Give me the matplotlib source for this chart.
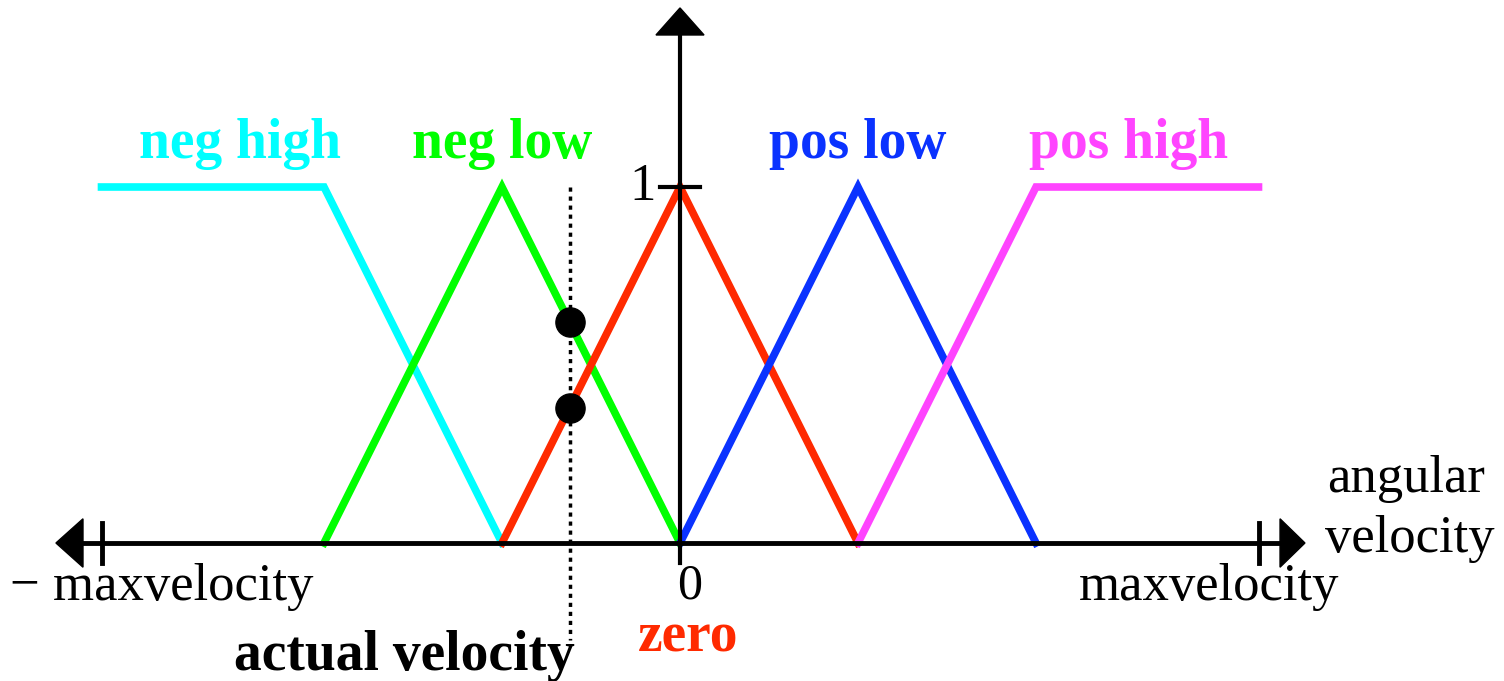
import matplotlib as mpl
import matplotlib.pyplot as plt
import numpy as np

mpl.use("Agg")
plt.rcParams["font.family"] = ["Liberation Serif", "DejaVu Serif"]

# %% Data (velocity in units of one set width, maxvelocity = 3.25)

max_vel = 3.25
actual_vel = -0.62

set_names = ["neg high", "neg low", "zero", "pos low", "pos high"]
neg_high_x = [-3.25, -2, -1]
neg_high_y = [1, 1, 0]
neg_low_x = [-2, -1, 0]
neg_low_y = [0, 1, 0]
zero_x = [-1, 0, 1]
zero_y = [0, 1, 0]
pos_low_x = [0, 1, 2]
pos_low_y = [0, 1, 0]
pos_high_x = [1, 2, 3.25]
pos_high_y = [0, 1, 1]

set_colors = ["#00ffff", "#00ff00", "#ff2a00", "#0a32ff", "#ff44ff"]

# %% Figure

fig = plt.figure(figsize=(15.04, 6.81), dpi=100)
ax = fig.add_axes([0, 0, 1, 1])
ax.set_xlim(-680 / 178, 824 / 178)
ax.set_ylim(-138 / 356, 543 / 356)
ax.axis("off")

sets_x = [neg_high_x, neg_low_x, zero_x, pos_low_x, pos_high_x]
sets_y = [neg_high_y, neg_low_y, zero_y, pos_low_y, pos_high_y]
for xs, ys, c in zip(sets_x, sets_y, set_colors):
    ax.plot(xs, ys, c=c, linewidth=5.5, solid_joinstyle="miter", zorder=2)

# axes with arrows and ticks
ax.plot([-3.4, 3.4], [0, 0], c="black", linewidth=3.5, zorder=3)
ax.plot([0, 0], [-0.056, 1.45], c="black", linewidth=3, zorder=3)
ax.fill([-3.506, -3.354, -3.354], [0, 0.068, -0.068], c="black", zorder=3)
ax.fill([3.511, 3.371, 3.371], [0, 0.068, -0.068], c="black", zorder=3)
ax.fill([0, 0.135, -0.135], [1.503, 1.427, 1.427], c="black", zorder=3)
for xt in [-max_vel, max_vel]:
    ax.plot([xt, xt], [-0.056, 0.056], c="black", linewidth=3.5, zorder=3)
ax.plot([-0.112, 0.112], [1, 1], c="black", linewidth=3, zorder=3)

# actual velocity and its memberships
ax.plot(
    [actual_vel, actual_vel],
    [1.0, -0.272],
    c="black",
    linewidth=2.5,
    linestyle=(0, (1.2, 1.4)),
    zorder=3,
)
mu = [np.interp(actual_vel, neg_low_x, neg_low_y), np.interp(actual_vel, zero_x, zero_y)]
ax.plot([actual_vel] * 2, mu, "o", c="black", markersize=21, zorder=4)

# set labels
label_x = [-2.47, -1.0, 0.045, 1.0, 2.52]
label_y = [1.081, 1.081, -0.306, 1.081, 1.081]
for name, lx, ly, c in zip(set_names, label_x, label_y, set_colors):
    ax.text(lx, ly, name, color=c, fontsize=40, fontweight="bold",
            ha="center", va="baseline")

ax.text(-0.59, -0.357, "actual velocity", fontsize=40, fontweight="bold",
        ha="right", va="baseline")
ax.text(-0.21, 1.0, "1", fontsize=38, ha="center", va="center")
ax.text(0.056, -0.1545, "0", fontsize=36, ha="center", va="baseline")
ax.text(-2.91, -0.16, "− maxvelocity", fontsize=38, ha="center", va="baseline")
ax.text(2.975, -0.16, "maxvelocity", fontsize=38, ha="center", va="baseline")
ax.text(4.08, 0.143, "angular", fontsize=38, ha="center", va="baseline")
ax.text(4.10, -0.025, "velocity", fontsize=38, ha="center", va="baseline")

fig.savefig("out.png", dpi=100)
